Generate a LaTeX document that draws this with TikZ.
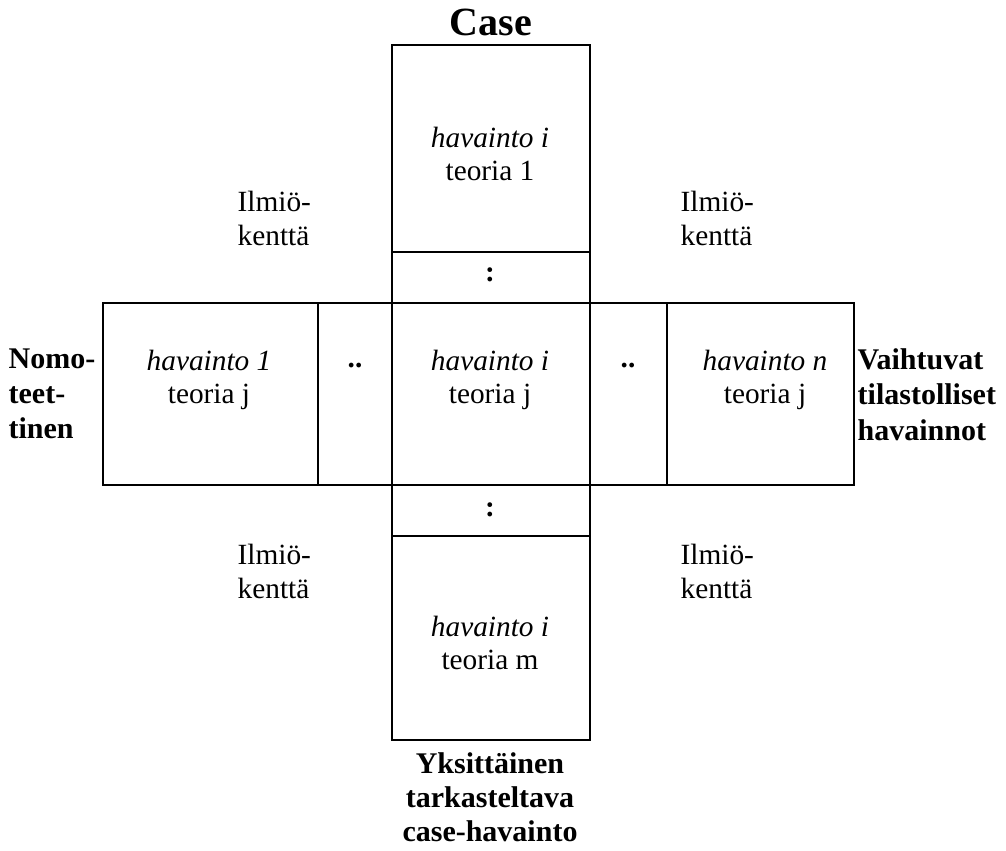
\documentclass[tikz,border=0pt]{standalone}
\usepackage{fontspec}
\setmainfont{Liberation Serif}
\tikzset{every picture/.style={line width=1pt}}
\tikzset{
  celltext/.style={anchor=north, inner sep=0pt, align=center, font=\fontsize{22}{25}\selectfont},
  sidelabel/.style={anchor=north west, inner sep=0pt, align=left, font=\fontsize{22.5}{26.5}\selectfont\bfseries},
  fieldlabel/.style={anchor=north west, inner sep=0pt, align=left, font=\fontsize{22}{26}\selectfont},
  dotmark/.style={inner sep=0pt, font=\fontsize{22}{25}\selectfont\bfseries}
}
\begin{document}
\begin{tikzpicture}[x=0.75pt,y=0.75pt,yscale=-1,xscale=1]
\useasboundingbox (0,0) rectangle (1006,850);

%Shape: Rectangle [column]
\draw (392,45) rectangle (590,740);
%Shape: Rectangle [row]
\draw (103,303) rectangle (854,485);
%Straight Lines [cell borders]
\draw (392,252) -- (590,252);
\draw (392,536) -- (590,536);
\draw (318,303) -- (318,485);
\draw (667,303) -- (667,485);

% Text Node
\draw (491,35) node [anchor=base, inner sep=0pt, font=\fontsize{30}{32}\selectfont\bfseries] (case) {Case};
% Text Node
\draw (490,126) node [celltext] (obsTop) {\textit{havainto i}\\teoria 1};
% Text Node
\draw (490,275) node [dotmark] (dotsTop) {:};
% Text Node
\draw (209,349) node [celltext] (obsFirst) {\textit{havainto 1}\\teoria j};
% Text Node
\draw (355,367) node [dotmark, anchor=base] (dotsLeft) {..};
% Text Node
\draw (490,349) node [celltext] (obsMid) {\textit{havainto i}\\teoria j};
% Text Node
\draw (628,367) node [dotmark, anchor=base] (dotsRight) {..};
% Text Node
\draw (765,349) node [celltext] (obsLast) {\textit{havainto n}\\teoria j};
% Text Node
\draw (490,510) node [dotmark] (dotsBottom) {:};
% Text Node
\draw (490,615) node [celltext] (obsBottom) {\textit{havainto i}\\teoria m};

% Text Node
\draw (8,348) node [sidelabel] (nomo) {Nomo-\\teet-\\tinen};
% Text Node
\draw (857,348) node [sidelabel] (stat) {Vaihtuvat\\tilastolliset\\havainnot};
% Text Node
\draw (490,752) node [sidelabel, anchor=north, align=center, font=\fontsize{22.5}{25.5}\selectfont\bfseries] (single) {Yksittäinen\\tarkasteltava\\case-havainto};

% Text Node
\draw (237,190) node [fieldlabel] (fieldTL) {Ilmiö-\\kenttä};
% Text Node
\draw (680,190) node [fieldlabel] (fieldTR) {Ilmiö-\\kenttä};
% Text Node
\draw (237,543) node [fieldlabel] (fieldBL) {Ilmiö-\\kenttä};
% Text Node
\draw (680,543) node [fieldlabel] (fieldBR) {Ilmiö-\\kenttä};

\end{tikzpicture}
\end{document}
